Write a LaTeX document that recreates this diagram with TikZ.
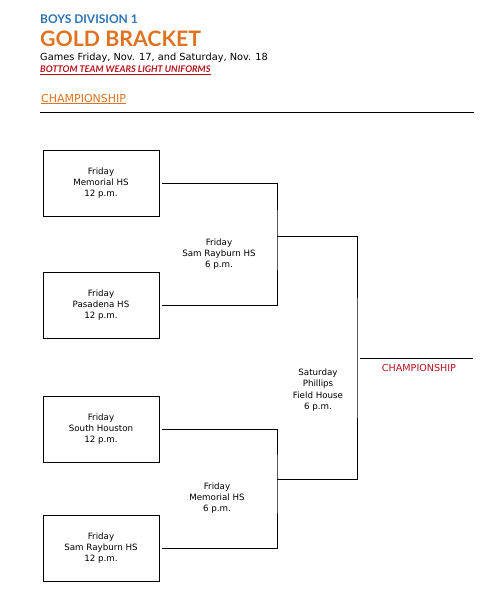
\documentclass[tikz,border=0pt]{standalone}
\usepackage{fontspec}
\setmainfont{DejaVu Sans}
\newfontfamily\latofont{Lato}
\usetikzlibrary{arrows.meta,calc,positioning}
\definecolor{titleblue}{HTML}{2E74B5}
\definecolor{titleorange}{HTML}{E07222}
\definecolor{darkred}{HTML}{B8121C}
\tikzset {
  >=Stealth,
  every node/.style={font=\fontsize{8.7}{11.3}\selectfont, inner sep=0pt},
  team/.style={draw, line width=0.9pt, minimum width=116pt, minimum height=66pt, align=center},
  game/.style={align=center},
  bracket/.style={line width=0.9pt},
  head/.style={anchor=west},
}

\begin{document}
\begin{tikzpicture}[x=1pt,y=-1pt]
  \useasboundingbox (0,0) rectangle (488,616);

  % heading
  \node[head, text=titleblue, font=\latofont\bfseries\fontsize{12}{14}\selectfont] (division) at (40,19) {BOYS DIVISION 1};
  \node[head, text=titleorange, font=\latofont\bfseries\fontsize{21.3}{24}\selectfont] (title) at (40,38.5) {GOLD BRACKET};
  \node[head, font=\fontsize{9.8}{11}\selectfont] (dates) at (40,58) {Games Friday, Nov. 17, and Saturday, Nov. 18};
  \node[head, text=darkred, font=\latofont\bfseries\itshape\fontsize{9.2}{10}\selectfont] (uniforms) at (40,70.5) {\underline{BOTTOM TEAM WEARS LIGHT UNIFORMS}};
  \node[head, text=titleorange, font=\fontsize{11}{12}\selectfont] (section) at (41,99) {\underline{CHAMPIONSHIP}};
  \coordinate (ruleL) at (40,112.7);
  \coordinate (ruleR) at (474,112.7);
  \draw[line width=1.3pt] (ruleL) -- (ruleR);

  % first round
  \node[team] (memorial) at (101,183) {Friday\\Memorial HS\\12 p.m.};
  \node[team] (pasadena) at (101,305) {Friday\\Pasadena HS\\12 p.m.};
  \node[team] (southhouston) at (101,429) {Friday\\South Houston\\12 p.m.};
  \node[team] (samrayburn) at (101,548) {Friday\\Sam Rayburn HS\\12 p.m.};

  % semifinals
  \coordinate (semiA) at (277,236);
  \coordinate (semiB) at (277,479);
  \coordinate (final) at (357,358);
  \coordinate (champ) at (473,358);
  \node[game] (gameA) at (219,254) {Friday\\Sam Rayburn HS\\6 p.m.};
  \node[game] (gameB) at (217,498) {Friday\\Memorial HS\\6 p.m.};
  \node[game] (gameF) at (318,390) {Saturday\\Phillips\\Field House\\6 p.m.};

  \draw[bracket] ([xshift=3pt]memorial.east) -| (semiA) |- ([xshift=3pt]pasadena.east);
  \draw[bracket] ([xshift=3pt]southhouston.east) -| (semiB) |- ([xshift=3pt]samrayburn.east);
  \draw[bracket] (semiA) -| (final) |- (semiB);
  \draw[bracket] ([xshift=3pt]final) -- (champ);
  \node[text=darkred, font=\fontsize{9.6}{10}\selectfont] (champlabel) at (419,368) {CHAMPIONSHIP};
\end{tikzpicture}
\end{document}
